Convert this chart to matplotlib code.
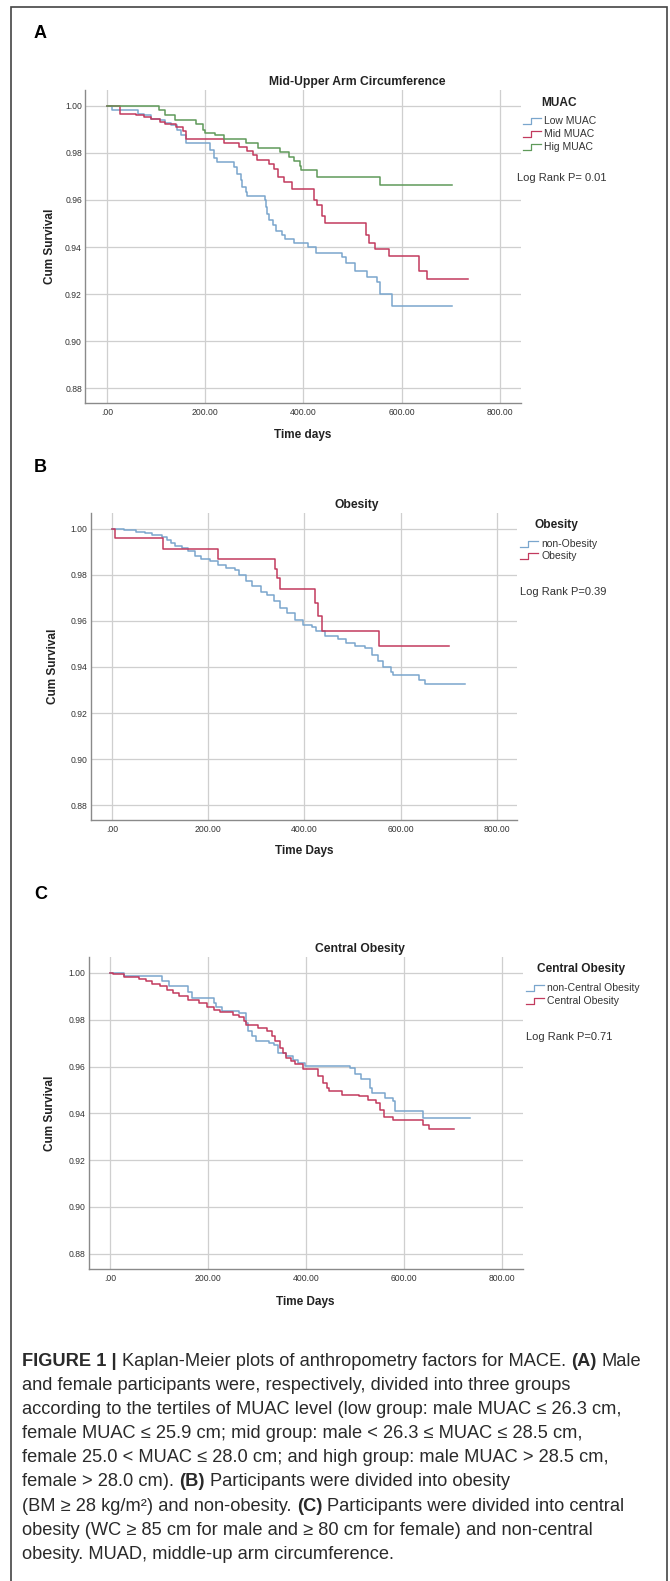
import matplotlib
matplotlib.use('Agg')
import matplotlib.pyplot as plt
from matplotlib.lines import Line2D
from matplotlib.patches import Rectangle

# ---- datos (dias, supervivencia acumulada) ----
low_days = [0, 9.5, 64, 75, 90, 108, 119, 130, 142, 150, 161, 210, 217, 224, 259, 265, 272, 275, 283, 286,
            321, 323, 326, 330, 337, 345, 356, 363, 381, 410, 425, 479, 487, 505, 530, 549, 555, 580, 702]
low_surv = [1.0, 0.9982, 0.9967, 0.9960, 0.9946, 0.9939, 0.9928, 0.9918, 0.9896, 0.9875, 0.9842, 0.9811,
            0.9780, 0.9761, 0.9740, 0.9712, 0.9683, 0.9655, 0.9634, 0.9619, 0.9598, 0.9572, 0.9541, 0.9513,
            0.9492, 0.9470, 0.9449, 0.9435, 0.9416, 0.9399, 0.9375, 0.9357, 0.9332, 0.9297, 0.9271, 0.9250,
            0.9200, 0.9148, 0.9148]
mid_days = [0, 26, 60, 75, 90, 108, 119, 141, 155, 161, 239, 268, 285, 297, 305, 330, 341, 348, 361, 377,
            421, 428, 437, 443, 527, 533, 545, 574, 636, 651, 734]
mid_surv = [1.0, 0.9967, 0.9963, 0.9953, 0.9943, 0.9932, 0.9925, 0.9911, 0.9894, 0.9858, 0.9844, 0.9825,
            0.9808, 0.9790, 0.9771, 0.9754, 0.9733, 0.9697, 0.9676, 0.9645, 0.9602, 0.9577, 0.9534, 0.9503,
            0.9449, 0.9418, 0.9392, 0.9361, 0.9300, 0.9264, 0.9264]
high_days = [0, 106, 119, 139, 181, 195, 200, 221, 239, 283, 308, 352, 370, 381, 392, 396, 428, 556, 702]
high_surv = [1.0, 0.9982, 0.9963, 0.9942, 0.9925, 0.9899, 0.9885, 0.9878, 0.9861, 0.9844, 0.9821, 0.9804,
             0.9783, 0.9764, 0.9743, 0.9726, 0.9697, 0.9665, 0.9665]

nonob_days = [0, 25, 50, 69, 83, 103, 114, 123, 132, 145, 158, 172, 185, 203, 220, 238, 256, 265, 278, 292,
              309, 323, 336, 349, 363, 380, 398, 416, 425, 443, 470, 487, 505, 527, 540, 554, 563, 581, 584,
              639, 650, 734]
nonob_surv = [1.0, 0.9994, 0.9987, 0.9983, 0.9975, 0.9965, 0.9954, 0.9939, 0.9927, 0.9917, 0.9903, 0.9881,
              0.9871, 0.9859, 0.9844, 0.9830, 0.9820, 0.9801, 0.9772, 0.9750, 0.9728, 0.9714, 0.9685, 0.9656,
              0.9634, 0.9605, 0.9581, 0.9576, 0.9555, 0.9533, 0.9522, 0.9504, 0.9493, 0.9482, 0.9453, 0.9424,
              0.9402, 0.9380, 0.9365, 0.9344, 0.9328, 0.9328]
ob_days = [0, 7, 105, 220, 338, 343, 349, 423, 429, 436, 556, 700]
ob_surv = [1.0, 0.9959, 0.9913, 0.9869, 0.9826, 0.9785, 0.9738, 0.9677, 0.9622, 0.9558, 0.9491, 0.9491]

noncen_days = [0, 28, 106, 119, 159, 167, 211, 215, 228, 263, 276, 281, 289, 298, 324, 333, 342, 359, 372,
               383, 398, 490, 500, 512, 529, 533, 560, 577, 581, 638, 734]
noncen_surv = [1.0, 0.9986, 0.9967, 0.9946, 0.9920, 0.9893, 0.9872, 0.9853, 0.9836, 0.9829, 0.9787, 0.9751,
               0.9730, 0.9708, 0.9701, 0.9690, 0.9658, 0.9644, 0.9630, 0.9616, 0.9601, 0.9594, 0.9566, 0.9545,
               0.9509, 0.9488, 0.9466, 0.9452, 0.9409, 0.9381, 0.9381]
cen_days = [0, 6, 28, 58, 72, 85, 102, 115, 128, 141, 159, 180, 198, 211, 224, 250, 263, 272, 276, 302,
            320, 329, 337, 346, 352, 359, 368, 377, 394, 423, 433, 442, 446, 472, 507, 525, 542, 551, 558,
            577, 638, 651, 702]
cen_surv = [1.0, 0.9996, 0.9983, 0.9974, 0.9964, 0.9954, 0.9943, 0.9929, 0.9915, 0.9900, 0.9886, 0.9872,
            0.9855, 0.9843, 0.9832, 0.9822, 0.9812, 0.9794, 0.9777, 0.9765, 0.9751, 0.9730, 0.9708, 0.9680,
            0.9658, 0.9637, 0.9623, 0.9609, 0.9590, 0.9559, 0.9530, 0.9509, 0.9495, 0.9480, 0.9473, 0.9459,
            0.9445, 0.9416, 0.9385, 0.9371, 0.9352, 0.9334, 0.9334]

y_ticks = [0.88, 0.90, 0.92, 0.94, 0.96, 0.98, 1.00]
x_ticks = [0, 200, 400, 600, 800]
x_tick_labels = ['.00', '200.00', '400.00', '600.00', '800.00']

BLUE, RED, GREEN = '#7aa6cd', '#c23a5e', '#5f9a5a'

W, H = 670, 1581
plt.rcParams['font.family'] = ['Liberation Sans', 'DejaVu Sans']
fig = plt.figure(figsize=(W / 100, H / 100), dpi=100)


def fx(px):
    return px / W


def fy(py):
    return 1 - py / H


# (letra, titulo, eje x, caja ejes px, y letra, titulo xy, ylabel x, xlabel y, leyenda, log rank)
panels = [
    dict(letter='A', title='Mid-Upper Arm Circumference', xlab='Time days', box=(85, 90, 520.7, 403.3),
         ly=33, tpos=(357, 82), ylx=50, xly=435,
         leg_title='MUAC', lt=(559, 103), leg_y=[121, 134, 147], sym_x=523, txt_x=544,
         series=[(low_days, low_surv, BLUE, 'Low MUAC'), (mid_days, mid_surv, RED, 'Mid MUAC'),
                 (high_days, high_surv, GREEN, 'Hig MUAC')],
         lr='Log Rank P= 0.01', lrpos=(517, 178)),
    dict(letter='B', title='Obesity', xlab='Time Days', box=(90.6, 513.3, 517, 820),
         ly=468, tpos=(357, 505), ylx=53, xly=851,
         leg_title='Obesity', lt=(556, 525), leg_y=[544, 556], sym_x=520, txt_x=541,
         series=[(nonob_days, nonob_surv, BLUE, 'non-Obesity'), (ob_days, ob_surv, RED, 'Obesity')],
         lr='Log Rank P=0.39', lrpos=(520, 592)),
    dict(letter='C', title='Central Obesity', xlab='Time Days', box=(88.5, 957, 523, 1269),
         ly=895, tpos=(360, 949), ylx=50, xly=1302,
         leg_title='Central Obesity', lt=(581, 969), leg_y=[988, 1001], sym_x=526, txt_x=547,
         series=[(noncen_days, noncen_surv, BLUE, 'non-Central Obesity'),
                 (cen_days, cen_surv, RED, 'Central Obesity')],
         lr='Log Rank P=0.71', lrpos=(526, 1037)),
]

for p in panels:
    x0, y0, x1, y1 = p['box']
    ax = fig.add_axes([fx(x0), fy(y1), (x1 - x0) / W, (y1 - y0) / H])
    for d, s, c, lab in p['series']:
        ax.step(d, s, where='post', color=c, lw=1.1)  # curva Kaplan-Meier
    ax.set_xlim(-44.5, 842)
    ax.set_ylim(0.8735, 1.0068)
    ax.set_yticks(y_ticks)
    ax.set_yticklabels(['%.2f' % v for v in y_ticks])
    ax.set_xticks(x_ticks)
    ax.set_xticklabels(x_tick_labels)
    ax.tick_params(length=0, labelsize=6.2, labelcolor='#333333')
    ax.tick_params(axis='y', pad=2.2)
    ax.tick_params(axis='x', pad=3.5)
    ax.grid(True, color='#cfcfcf', lw=0.9)
    ax.set_axisbelow(True)
    for sp in ['top', 'right']:
        ax.spines[sp].set_visible(False)
    for sp in ['left', 'bottom']:
        ax.spines[sp].set_color('#8a8a8a')
        ax.spines[sp].set_linewidth(1.0)

    fig.text(fx(34), fy(p['ly']), p['letter'], fontsize=13, fontweight='bold', va='center', ha='left')
    fig.text(fx(p['tpos'][0]), fy(p['tpos'][1]), p['title'], fontsize=8.7, fontweight='bold',
             ha='center', va='center', color='#222222')
    fig.text(fx(p['ylx']), fy((y0 + y1) / 2), 'Cum Survival', fontsize=8.5, fontweight='bold',
             rotation=90, ha='center', va='center', color='#222222')
    fig.text(fx((x0 + x1) / 2), fy(p['xly']), p['xlab'], fontsize=8.5, fontweight='bold',
             ha='center', va='center', color='#222222')

    # leyenda estilo SPSS
    fig.text(fx(p['lt'][0]), fy(p['lt'][1]), p['leg_title'], fontsize=8.6, fontweight='bold',
             ha='center', va='center', color='#222222')
    for (d, s, c, lab), yc in zip(p['series'], p['leg_y']):
        sx = p['sym_x']
        xs = [sx, sx + 8, sx + 8, sx + 18]
        ys = [yc + 3, yc + 3, yc - 3, yc - 3]
        fig.add_artist(Line2D([fx(v) for v in xs], [fy(v) for v in ys], color=c, lw=0.9,
                              transform=fig.transFigure))
        fig.text(fx(p['txt_x']), fy(yc), lab, fontsize=7.5, ha='left', va='center', color='#333333')
    fig.text(fx(p['lrpos'][0]), fy(p['lrpos'][1]), p['lr'], fontsize=8, ha='left', va='center',
             color='#333333')

# marco alrededor de la figura
fig.add_artist(Rectangle((fx(11), fy(1600)), (667 - 11) / W, (1600 - 7) / H, fill=False,
                         ec='#444444', lw=1.2, transform=fig.transFigure, clip_on=False))

# pie de figura con partes en negrita
caption = [
    [('FIGURE 1 |', True), ('Kaplan-Meier plots of anthropometry factors for MACE.', False), ('(A)', True),
     ('Male', False)],
    [('and female participants were, respectively, divided into three groups', False)],
    [('according to the tertiles of MUAC level (low group: male MUAC \u2264 26.3 cm,', False)],
    [('female MUAC \u2264 25.9 cm; mid group: male < 26.3 \u2264 MUAC \u2264 28.5 cm,', False)],
    [('female 25.0 < MUAC \u2264 28.0 cm; and high group: male MUAC > 28.5 cm,', False)],
    [('female > 28.0 cm).', False), ('(B)', True), ('Participants were divided into obesity', False)],
    [('(BM \u2265 28 kg/m\u00b2) and non-obesity.', False), ('(C)', True),
     ('Participants were divided into central', False)],
    [('obesity (WC \u2265 85 cm for male and \u2265 80 cm for female) and non-central', False)],
    [('obesity. MUAD, middle-up arm circumference.', False)],
]

renderer = fig.canvas.get_renderer()


def measure(txt, size, bold=False):
    t = fig.text(0, 0, txt, fontsize=size, fontweight='bold' if bold else 'normal')
    w = t.get_window_extent(renderer).width
    t.remove()
    return w


def line_width(line, size):
    sp = measure('x x', size) - measure('xx', size)
    return sum(measure(t, size, b) for t, b in line) + sp * (len(line) - 1)


# la primera linea va de x=22 a x=643 en la referencia
cap_size = 10 * (643 - 22) / line_width(caption[0], 10)
space_w = measure('x x', cap_size) - measure('xx', cap_size)

for i, line in enumerate(caption):
    y = 1361 + 24.2 * i
    x = 22
    for txt, bold in line:
        t = fig.text(fx(x), fy(y), txt, fontsize=cap_size, fontweight='bold' if bold else 'normal',
                     ha='left', va='center', color='#2a2a2a')
        x += t.get_window_extent(renderer).width + space_w

fig.savefig('out.png', dpi=100)
